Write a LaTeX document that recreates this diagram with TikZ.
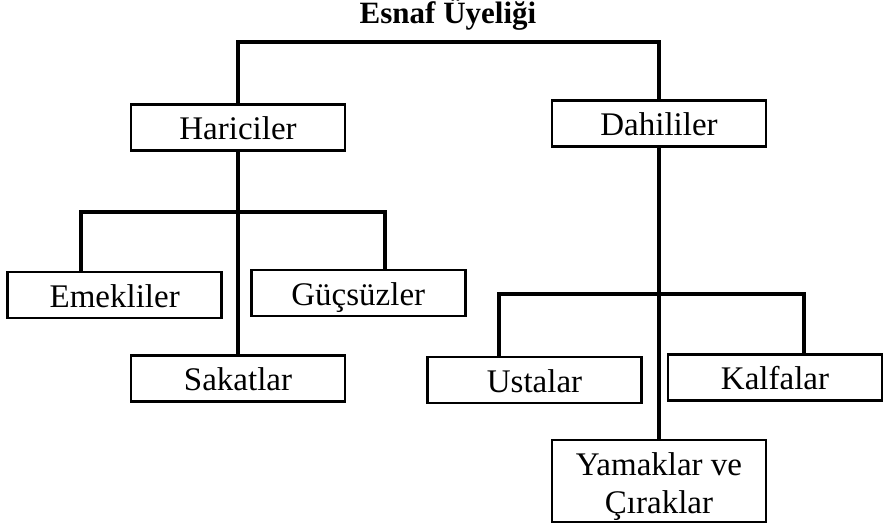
\documentclass[tikz,border=0pt]{standalone}
\usepackage{fontspec}
\setmainfont{Liberation Serif}

\begin{document}
\begin{tikzpicture}[x=1pt, y=-1pt, line cap=rect, line join=miter,
    box/.style={draw, line width=2.6pt, minimum width=214pt, minimum height=46pt,
      inner sep=0pt, text height=24pt, text depth=0pt, font=\fontsize{33}{38}\selectfont},
    tak/.style={line width=3.8pt}]
        \useasboundingbox (0,0) rectangle (883,525);

        % Titel
        \node[anchor=base, font=\fontsize{31}{34}\selectfont\bfseries] (titel) at (448,23) {Esnaf Üyeliği};
        \coordinate (kop) at (448,42);

        % Eerste niveau
        \node[box] (har) at (238,127.5) {Hariciler};
        \node[box] (dah) at (659,123.5) {Dahililer};

        % Onder Hariciler
        \node[box] (emk) at (114.7,295) {Emekliler};
        \node[box] (guc) at (358.3,293) {Güçsüzler};
        \node[box] (sak) at (238,378.4) {Sakatlar};
        \coordinate (hj) at (238,211.7);

        % Onder Dahililer
        \node[box] (ust) at (534.5,380) {Ustalar};
        \node[box] (kal) at (775,377.5) {Kalfalar};
        \node[box, minimum height=82pt, text height=64pt, align=center] (yam) at (659,481) {Yamaklar ve\\Çıraklar};
        \coordinate (dj) at (659,294.3);

        % Takken
        \draw[tak] (har.north) |- (kop) -| (dah.north);
        \draw[tak] (har.south) -- (sak.north);
        \draw[tak] ([xshift=-34pt]emk.north) |- (hj) -| ([xshift=26.7pt]guc.north);
        \draw[tak] (dah.south) -- (yam.north);
        \draw[tak] ([xshift=-35.5pt]ust.north) |- (dj) -| ([xshift=29.3pt]kal.north);
      \end{tikzpicture}
\end{document}
